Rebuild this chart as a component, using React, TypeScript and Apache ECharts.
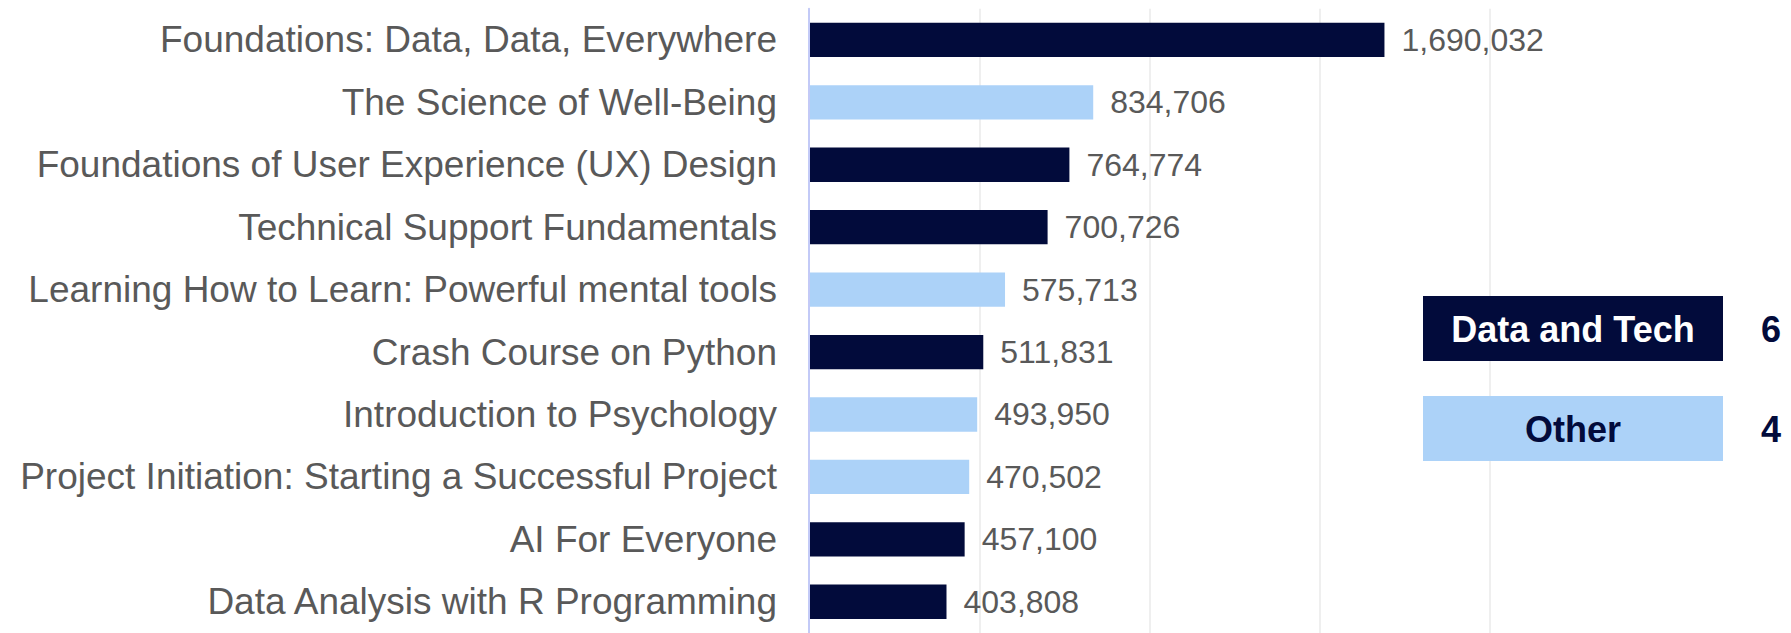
import React, { useEffect, useRef } from "react";
import * as echarts from "echarts";

const categories = [
  "Foundations: Data, Data, Everywhere",
  "The Science of Well-Being",
  "Foundations of User Experience (UX) Design",
  "Technical Support Fundamentals",
  "Learning How to Learn: Powerful mental tools",
  "Crash Course on Python",
  "Introduction to Psychology",
  "Project Initiation: Starting a Successful Project",
  "AI For Everyone",
  "Data Analysis with R Programming",
];

const enrollments = [1690032, 834706, 764774, 700726, 575713, 511831, 493950, 470502, 457100, 403808];

const groups = [
  "Data and Tech",
  "Other",
  "Data and Tech",
  "Data and Tech",
  "Other",
  "Data and Tech",
  "Other",
  "Other",
  "Data and Tech",
  "Data and Tech",
];

const groupNames = ["Data and Tech", "Other"];

const xTicks = { min: 0, max: 2000000, interval: 500000 };

const NAVY = "#020b3b";
const LIGHT = "#acd2f8";
const groupColors: Record<string, string> = { "Data and Tech": NAVY, Other: LIGHT };
const groupTextColors: Record<string, string> = { "Data and Tech": "#ffffff", Other: NAVY };

const FONT = "'Liberation Sans', Arial, Helvetica, sans-serif";

export default function App() {
  const ref = useRef<HTMLDivElement>(null);

  useEffect(() => {
    document.body.style.margin = "0";
    if (!ref.current) return;
    const chart = echarts.init(ref.current, undefined, { renderer: "svg" });

    const counts = groupNames.map((g) => groups.filter((x) => x === g).length);

    const graphics: any[] = [];
    groupNames.forEach((g, i) => {
      const top = 296 + i * 100;
      graphics.push({
        type: "rect",
        left: 1423,
        top,
        shape: { width: 300, height: 65 },
        style: { fill: groupColors[g] },
        z: 10,
      });
      graphics.push({
        type: "text",
        x: 1573,
        y: top + 33,
        style: {
          text: g,
          fill: groupTextColors[g],
          font: `bold 36px ${FONT}`,
          align: "center",
          verticalAlign: "middle",
        },
        z: 11,
      });
      graphics.push({
        type: "text",
        x: 1771,
        y: top + 33,
        style: {
          text: String(counts[i]),
          fill: NAVY,
          font: `bold 36px ${FONT}`,
          align: "center",
          verticalAlign: "middle",
        },
        z: 11,
      });
    });

    chart.setOption({
      animation: false,
      textStyle: { fontFamily: FONT },
      grid: { left: 809, right: 301, top: 8.7, bottom: -7.7, containLabel: false },
      xAxis: {
        type: "value",
        min: xTicks.min,
        max: xTicks.max,
        interval: xTicks.interval,
        axisLabel: { show: false },
        axisLine: { show: false },
        axisTick: { show: false },
        splitLine: { show: true, lineStyle: { color: "#efefef", width: 2 } },
      },
      yAxis: {
        type: "category",
        data: categories,
        inverse: true,
        axisTick: { show: false },
        axisLine: { show: true, lineStyle: { color: "#c3caf7", width: 2 } },
        axisLabel: {
          color: "#595959",
          fontSize: 37,
          fontFamily: FONT,
          margin: 32,
        },
        z: 5,
      },
      series: [
        {
          type: "bar",
          barCategoryGap: "45%",
          data: enrollments.map((v, i) => ({
            value: v,
            itemStyle: { color: groupColors[groups[i]] },
          })),
          label: {
            show: true,
            position: "right",
            distance: 17,
            color: "#595959",
            fontSize: 32,
            fontFamily: FONT,
            formatter: (p: any) => Number(p.value).toLocaleString("en-US"),
          },
        },
      ],
      graphic: graphics,
    });

    return () => chart.dispose();
  }, []);

  return <div ref={ref} style={{ width: 1791, height: 633 }} />;
}
